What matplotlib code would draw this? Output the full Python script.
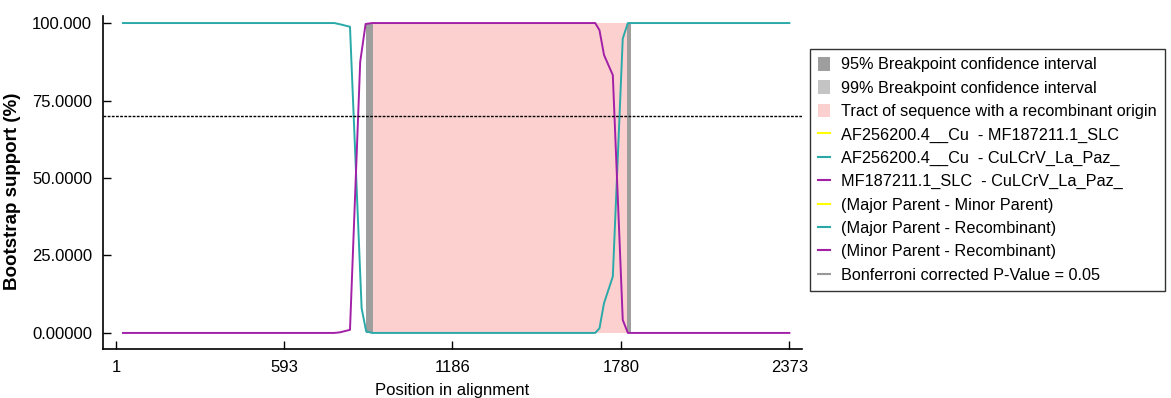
import matplotlib
matplotlib.use("Agg")
import matplotlib.pyplot as plt
from matplotlib.patches import Patch
from matplotlib.lines import Line2D

plt.rcParams['font.family'] = ['Liberation Sans Narrow', 'Liberation Sans', 'DejaVu Sans']

# bootstrap support curves (position, %)
teal_pos = [25, 770, 790, 825, 866, 882, 903, 1689, 1704, 1720, 1751, 1786, 1804, 2373]
teal_val = [100, 100, 99.6, 98.8, 8.0, 0.5, 0, 0, 1.5, 9.6, 18.2, 95.0, 100, 100]
mag_pos = [25, 770, 790, 825, 861, 880, 903, 1689, 1704, 1720, 1751, 1786, 1804, 2373]
mag_val = [0, 0, 0.2, 1.0, 87.5, 99.7, 100, 100, 97.7, 89.7, 83.2, 4.2, 0, 0]

ci95 = [(881, 907), (1800, 1815)]
tract = (907, 1800)
threshold = 70

xticks = [1, 593, 1186, 1780, 2373]
yticks = [0, 25, 50, 75, 100]
ytick_labels = ["0.00000", "25.0000", "50.0000", "75.0000", "100.000"]

legend_labels = [
    "95% Breakpoint confidence interval",
    "99% Breakpoint confidence interval",
    "Tract of sequence with a recombinant origin",
    "AF256200.4__Cu  - MF187211.1_SLC",
    "AF256200.4__Cu  - CuLCrV_La_Paz_",
    "MF187211.1_SLC  - CuLCrV_La_Paz_",
    "(Major Parent - Minor Parent)",
    "(Major Parent - Recombinant)",
    "(Minor Parent - Recombinant)",
    "Bonferroni corrected P-Value = 0.05",
]

TEAL = "#2aa9a9"
MAG = "#a21fa8"
YEL = "#ffff00"
PINK = "#fdd0d0"
DARK = "#9e9e9e"
LIGHT = "#c4c4c4"

fig = plt.figure(figsize=(11.71, 3.98), dpi=100)
ax = fig.add_axes([0.088, 0.123, 0.597, 0.837])

ax.fill_between([tract[0], tract[1]], 0, 100, color=PINK, lw=0)
for lo, hi in ci95:
    ax.fill_between([lo, hi], 0, 100, color=DARK, lw=0)

ax.plot(teal_pos, teal_val, color=TEAL, lw=1.4)
ax.plot(mag_pos, mag_val, color=MAG, lw=1.4)
ax.axhline(threshold, color="black", lw=1.0, ls=(0, (2, 1)))

ax.set_xlim(-45, 2418)
ax.set_ylim(-5.2, 102.3)
ax.set_xticks(xticks)
ax.set_xticklabels([str(t) for t in xticks])
ax.set_yticks(yticks)
ax.set_yticklabels(ytick_labels)
ax.tick_params(direction="in", length=6, width=1, labelsize=12, pad=8)
for s in ["top", "right"]:
    ax.spines[s].set_visible(False)
for s in ["left", "bottom"]:
    ax.spines[s].set_linewidth(1.2)
ax.set_xlabel("Position in alignment", fontsize=12, labelpad=6)
ax.set_ylabel("Bootstrap support (%)", fontsize=13.5, fontweight="bold")
ax.yaxis.set_label_coords(-0.117, 0.474)

handles = [
    Patch(facecolor=DARK, edgecolor="none"),
    Patch(facecolor=LIGHT, edgecolor="none"),
    Patch(facecolor=PINK, edgecolor="none"),
    Line2D([], [], color=YEL, lw=1.5),
    Line2D([], [], color=TEAL, lw=1.5),
    Line2D([], [], color=MAG, lw=1.5),
    Line2D([], [], color=YEL, lw=1.5),
    Line2D([], [], color=TEAL, lw=1.5),
    Line2D([], [], color=MAG, lw=1.5),
    Line2D([], [], color="#999999", lw=1.5),
]
leg = fig.legend(handles, legend_labels, loc="upper left",
                 bbox_to_anchor=(810 / 1171, 1 - 49 / 398),
                 fontsize=11.7, frameon=True, fancybox=False,
                 handlelength=0.7, handleheight=0.9, handletextpad=0.7,
                 labelspacing=0.49, borderpad=0.5, borderaxespad=0)
leg.get_frame().set_edgecolor("black")
leg.get_frame().set_linewidth(1.0)

fig.savefig("out.png", dpi=100)
